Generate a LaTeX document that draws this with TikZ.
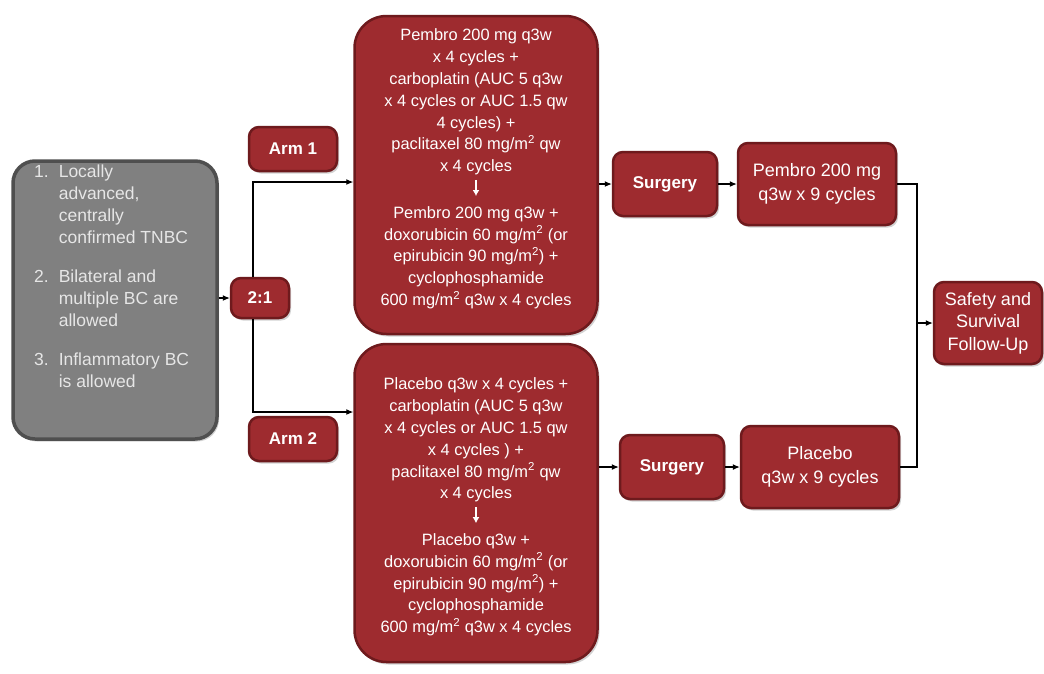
\documentclass[tikz,border=0pt]{standalone}
\usepackage{fontspec}
\setmainfont{Liberation Sans}
\usetikzlibrary{shadows,arrows.meta}
\definecolor{boxred}{HTML}{9E2B2F}
\definecolor{boxdark}{HTML}{6E1A1D}
\definecolor{boxgray}{HTML}{808080}
\definecolor{graydark}{HTML}{4F4F4F}
\definecolor{graytext}{HTML}{E6E6E6}
\tikzset{
  redbox/.style={rounded corners=10pt, fill=boxred, draw=boxdark, line width=2.5pt,
    text=white, align=center, inner sep=2pt,
    drop shadow={opacity=0.35, shadow xshift=2pt, shadow yshift=-2.5pt}},
  bigbox/.style={redbox, rounded corners=32pt, minimum width=243pt, minimum height=318pt},
  bigtext/.style={text=white, align=center, inner sep=0pt,
    font=\fontsize{16.4}{21.8}\selectfont},
  smallbox/.style={redbox, font=\fontsize{18}{23.5}\selectfont},
  boldbox/.style={redbox, font=\bfseries\fontsize{17}{20}\selectfont},
  graybox/.style={rounded corners=22pt, fill=boxgray, draw=graydark, line width=3.5pt,
    text=graytext, minimum width=204pt, minimum height=278pt,
    drop shadow={opacity=0.35, shadow xshift=2pt, shadow yshift=-2.5pt}},
  conn/.style={line width=1.1pt, draw=black},
  arr/.style={conn, -{Latex[length=7pt,width=6pt]}}
}
\newcommand{\sq}{\textsuperscript{2}}
\newcommand{\downarr}{\tikz[baseline]{\draw[white, line width=1.4pt, -{Latex[length=6pt,width=7pt]}] (0,15pt) -- (0,-1pt);}}
\begin{document}
\begin{tikzpicture}[x=1pt,y=-1pt]
\useasboundingbox[fill=white] (0,0) rectangle (1044,673);

% gray inclusion box
\node[graybox] (incl) at (115,300) {};
\node[text=graytext, anchor=north west, inner sep=0pt,
  font=\fontsize{17.5}{22}\selectfont] (incltext) at (34,162) {%
  \begin{tabular}{@{}l@{\hspace{10pt}}l@{}}
  1. & Locally\\
     & advanced,\\
     & centrally\\
     & confirmed TNBC\\[17pt]
  2. & Bilateral and\\
     & multiple BC are\\
     & allowed\\[17pt]
  3. & Inflammatory BC\\
     & is allowed
  \end{tabular}};

% randomisation
\node[boldbox, minimum width=58pt, minimum height=40pt] (rand) at (260,298) {2:1};
\node[boldbox, minimum width=88pt, minimum height=44pt] (arm1) at (293,149) {Arm 1};
\node[boldbox, minimum width=88pt, minimum height=44pt] (arm2) at (293,439) {Arm 2};

% treatment boxes
\node[bigbox] (top) at (476,175) {};
\node[bigtext] (toptext) at (476,169) {%
  Pembro 200 mg q3w\\
  x 4 cycles +\\
  carboplatin (AUC 5 q3w\\
  x 4 cycles or AUC 1.5 qw\\
  4 cycles) +\\
  paclitaxel 80 mg/m\sq{} qw\\
  x 4 cycles\\[1.5pt]
  \downarr\\[1.5pt]
  Pembro 200 mg q3w +\\
  doxorubicin 60 mg/m\sq{} (or\\
  epirubicin 90 mg/m\sq) +\\
  cyclophosphamide\\
  600 mg/m\sq{} q3w x 4 cycles};
\node[bigbox] (bot) at (476,503) {};
\node[bigtext] (bottext) at (476,507) {%
  Placebo q3w x 4 cycles +\\
  carboplatin (AUC 5 q3w\\
  x 4 cycles or AUC 1.5 qw\\
  x 4 cycles ) +\\
  paclitaxel 80 mg/m\sq{} qw\\
  x 4 cycles\\[1.5pt]
  \downarr\\[1.5pt]
  Placebo q3w +\\
  doxorubicin 60 mg/m\sq{} (or\\
  epirubicin 90 mg/m\sq) +\\
  cyclophosphamide\\
  600 mg/m\sq{} q3w x 4 cycles};

% surgery and maintenance
\node[boldbox, minimum width=104pt, minimum height=64pt] (surg1) at (665,184) {Surgery};
\node[smallbox, minimum width=158pt, minimum height=82pt] (pem) at (817,184) {Pembro 200 mg\\q3w x 9 cycles};
\node[boldbox, minimum width=104pt, minimum height=64pt] (surg2) at (672,467) {Surgery};
\node[smallbox, minimum width=158pt, minimum height=82pt] (plc) at (820,467) {Placebo\\q3w x 9 cycles};

% follow-up
\node[smallbox, minimum width=108pt, minimum height=82pt, font=\fontsize{18}{22.5}\selectfont] (fu) at (988,323) {Safety and\\Survival\\Follow-Up};

% connectors
\coordinate (j1) at (917,184);
\coordinate (j2) at (917,467);
\draw[arr] (incl.east |- rand.west) -- (rand.west);
\draw[arr] ([xshift=-7pt]rand.north) |- ([yshift=-7pt]top.west);
\draw[arr] ([xshift=-7pt]rand.south) |- (bot.west |- 0,412);
\draw[arr] (top.east |- surg1.west) -- (surg1.west);
\draw[arr] (surg1.east) -- (pem.west);
\draw[arr] (bot.east |- surg2.west) -- (surg2.west);
\draw[arr] (surg2.east) -- (plc.west);
\draw[conn] (pem.east) -- (j1) -- (j2) -- (plc.east);
\draw[arr] (j1 |- fu.west) -- (fu.west);
\end{tikzpicture}
\end{document}
